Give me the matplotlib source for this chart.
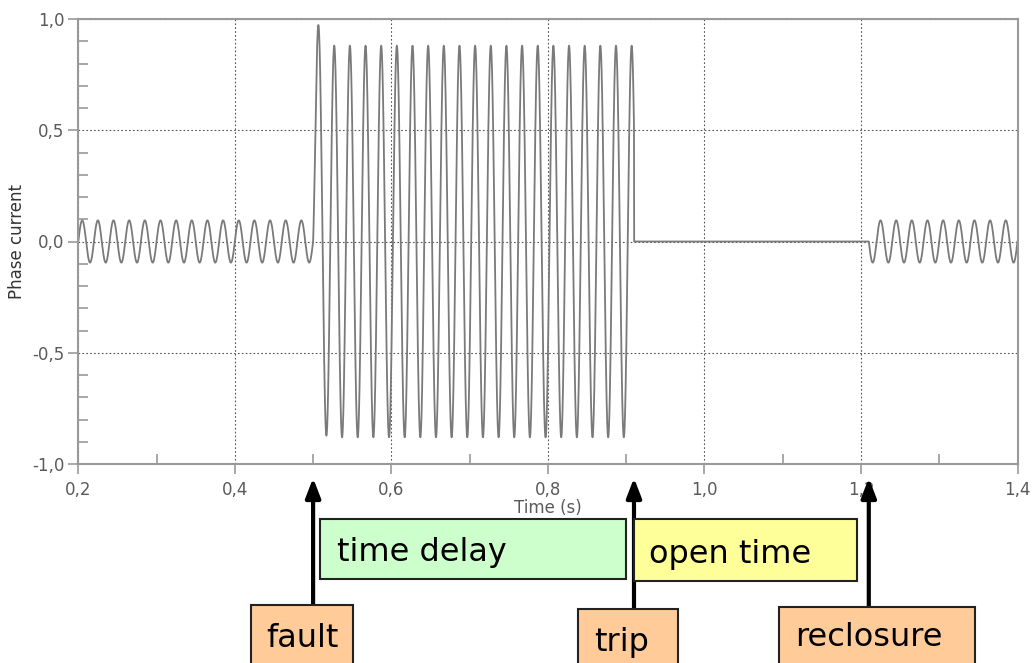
import numpy as np
import matplotlib
matplotlib.use("Agg")
import matplotlib.pyplot as plt
from matplotlib.patches import Rectangle
from matplotlib.ticker import MultipleLocator, FuncFormatter
from matplotlib.transforms import blended_transform_factory

# --- signal description (read from the recording) ---
FREQ = 50.0                 # Hz
LOAD_AMP = 0.095            # pre-fault / after reclosure amplitude
LOAD_PEAK_T = 0.205         # time of a load-current peak (s)
FAULT_AMP = 0.88            # fault current amplitude
FAULT_PEAK_T = 0.507        # time of a fault-current peak (s)
DC_TAU = 0.004              # decay of the DC offset at fault inception (s)

EVENT_NAMES = ["fault", "trip", "reclosure"]
EVENT_TIMES = [0.500, 0.910, 1.210]
PERIOD_NAMES = ["time delay", "open time"]

T_MIN, T_MAX = 0.2, 1.4
X_TICKS = [0.2, 0.4, 0.6, 0.8, 1.0, 1.2, 1.4]
Y_TICKS = [-1.0, -0.5, 0.0, 0.5, 1.0]

t_fault, t_trip, t_recl = EVENT_TIMES
w = 2 * np.pi * FREQ
t = np.arange(T_MIN, T_MAX + 1e-9, 0.0001)
load = LOAD_AMP * np.cos(w * (t - LOAD_PEAK_T))
dc0 = LOAD_AMP * np.cos(w * (t_fault - LOAD_PEAK_T)) - FAULT_AMP * np.cos(w * (t_fault - FAULT_PEAK_T))
fault = FAULT_AMP * np.cos(w * (t - FAULT_PEAK_T)) + dc0 * np.exp(-(t - t_fault) / DC_TAU)
i = np.where(t < t_fault, load, fault)
i = np.where((t >= t_trip) & (t < t_recl), 0.0, i)
i = np.where(t >= t_recl, load, i)

W, H = 1032, 663
fig = plt.figure(figsize=(W / 100, H / 100), dpi=100)
fig.patch.set_facecolor("white")
L, R, T, B = 78.3, 1017.5, 19, 464
ax = fig.add_axes([L / W, 1 - B / H, (R - L) / W, (B - T) / H])

ax.plot(t, i, color="#7a7a7a", lw=1.3)
ax.set_xlim(T_MIN, T_MAX)
ax.set_ylim(-1.0, 1.0)

comma = FuncFormatter(lambda v, _: f"{v:.1f}".replace(".", ","))
ax.set_xticks(X_TICKS)
ax.set_yticks(Y_TICKS)
ax.xaxis.set_major_formatter(comma)
ax.yaxis.set_major_formatter(comma)
ax.xaxis.set_minor_locator(MultipleLocator(0.1))
ax.yaxis.set_minor_locator(MultipleLocator(0.1))
ax.tick_params(which="major", direction="out", length=7, width=1.2, color="#999999",
               labelsize=12, labelcolor="#5a5a5a")
ax.tick_params(axis="x", which="major", pad=5)
ax.tick_params(axis="y", which="major", pad=3)
ax.tick_params(which="minor", direction="in", length=7, width=1.2, color="#999999")
for s in ax.spines.values():
    s.set_color("#999999")
    s.set_linewidth(1.5)
ax.grid(which="major", color="#555555", lw=0.8, ls=(0, (1.5, 2)))

ax.set_xlabel("Time (s)", fontsize=12, color="#5a5a5a", labelpad=0)
ax.set_ylabel("Phase current", fontsize=12, color="#333333", labelpad=4)


def fx(x):
    return x / W


def fy(y):
    return 1 - y / H


def box(x0, x1, y0, y1, text, color, tx, ty):
    fig.patches.append(Rectangle((fx(x0), fy(y1)), fx(x1) - fx(x0), fy(y0) - fy(y1),
                                 transform=fig.transFigure, facecolor=color,
                                 edgecolor="#222222", lw=1.5))
    fig.text(fx(tx), fy(ty), text, fontsize=23, ha="left", va="baseline", color="black")


box(320, 626, 519, 579, PERIOD_NAMES[0], "#ccffcc", 337, 561)
box(634, 857, 519, 581, PERIOD_NAMES[1], "#ffff99", 649, 563)
box(251, 353, 605, 700, EVENT_NAMES[0], "#ffcc99", 266, 647)
box(578, 678, 609, 700, EVENT_NAMES[1], "#ffcc99", 594, 651)
box(779, 975, 607, 700, EVENT_NAMES[2], "#ffcc99", 795, 646)

trans = blended_transform_factory(ax.transData, fig.transFigure)
box_tops = [605, 609, 607]
for te, top in zip(EVENT_TIMES, box_tops):
    ax.annotate("", xy=(te, fy(478)), xycoords=trans, xytext=(te, fy(top)), textcoords=trans,
                annotation_clip=False,
                arrowprops=dict(arrowstyle="-|>,head_length=0.65,head_width=0.25", lw=3,
                                color="black", shrinkA=0, shrinkB=0, mutation_scale=18))

fig.savefig("out.png", dpi=100, facecolor="white")
